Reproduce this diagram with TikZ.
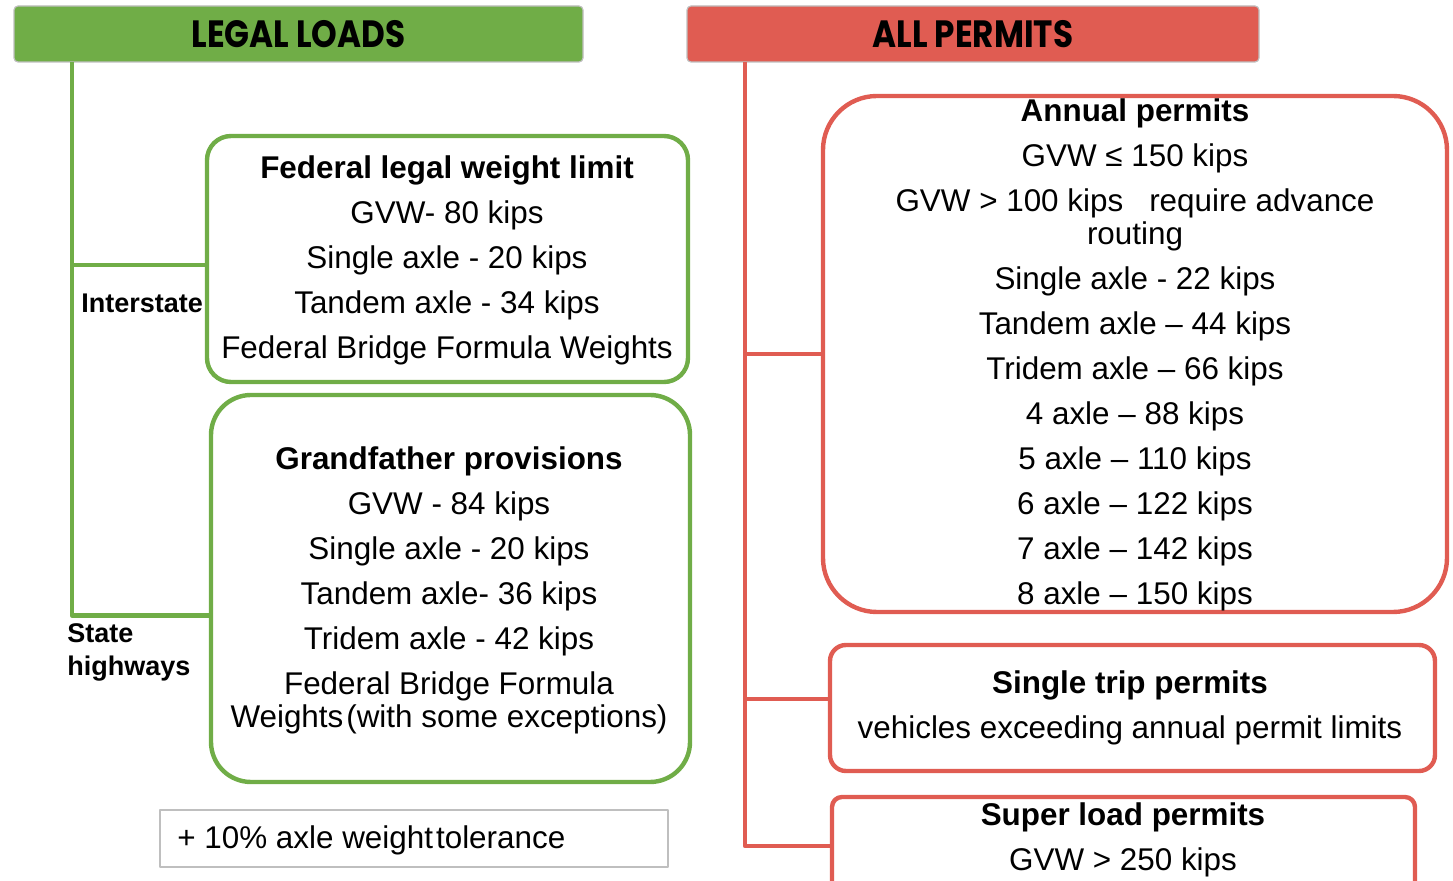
\documentclass[tikz,border=0pt]{standalone}
\usepackage{graphicx}
\usepackage{fontspec}
\setmainfont{Liberation Sans}
\newfontfamily\headfont{Poppins}
\usetikzlibrary{calc, fit, positioning}
\definecolor{lgreen}{HTML}{70AD47}
\definecolor{pred}{HTML}{E05C52}
\definecolor{frame}{HTML}{BFBFBF}
\tikzset{
  every picture/.style={line join=round},
  hdr/.style={draw=frame, line width=0.6pt, rounded corners=2pt, minimum height=28pt,
              inner sep=0pt, font=\headfont\bfseries\fontsize{19}{19}\selectfont},
  box/.style={draw=#1, line width=2.2pt, fill=white, inner sep=0pt},
  gbox/.style={box=lgreen},
  rbox/.style={box=pred},
  txt/.style={align=center, inner sep=0pt, font=\fontsize{15.7}{22.5}\selectfont},
  lbl/.style={align=left, inner sep=0pt, font=\bfseries\fontsize{13.5}{16.5}\selectfont},
  gline/.style={draw=lgreen, line width=2.4pt},
  rline/.style={draw=pred, line width=2.4pt},
  note/.style={draw=frame, line width=0.6pt, inner sep=0pt},
}

\begin{document}
\begin{tikzpicture}[x=0.5pt, y=-0.5pt]
  \useasboundingbox (0,0) rectangle (1453,881);
  % headers
  \node[hdr, fill=lgreen, minimum width=284.5pt] (legal) at (298.5,34) {\scalebox{0.86}[1]{LEGAL LOADS}};
  \node[hdr, fill=pred, minimum width=286pt] (permits) at (973,34) {\scalebox{0.86}[1]{ALL PERMITS}};
  \coordinate (gtop) at (72,62);
  \coordinate (rtop) at (745,62);
  % legal loads
  \node[gbox, rounded corners=12pt, fit={(207,136) (688,382)}] (fed) {};
  \node[gbox, rounded corners=20pt, fit={(211,395) (690,782)}] (gf) {};
  \node[txt] (fedtxt) at (447,260) {\textbf{Federal legal weight limit}\\GVW- 80 kips\\Single axle - 20 kips\\
    Tandem axle - 34 kips\\Federal Bridge Formula Weights};
  \node[txt] (gftxt) at (449,590) {\textbf{Grandfather provisions}\\GVW - 84 kips\\Single axle - 20 kips\\
    Tandem axle- 36 kips\\Tridem axle - 42 kips\\Federal Bridge Formula\\[-6pt]Weights\hspace{1.5pt}(with some exceptions)};
  \node[lbl, anchor=west] (inter) at (81,303) {Interstate};
  \node[lbl, anchor=west] (state) at (67,652) {State\\highways};
  \node[note, fit={(160,810) (668,867)}] (tol) {};
  \node[txt, anchor=west] (toltxt) at (177,840) {+ 10\% axle weight\hspace{1.5pt}tolerance};
  % permits
  \node[rbox, rounded corners=27pt, fit={(823,96) (1447,612)}] (ann) {};
  \node[rbox, rounded corners=8pt, fit={(830,645) (1435,771)}] (stp) {};
  \node[rbox, rounded corners=5pt, fit={(832,797) (1415,895)}] (sup) {};
  \node[txt] (anntxt) at (1135,355) {\textbf{Annual permits}\\GVW ≤ 150 kips\\GVW > 100 kips\hspace{13pt}require advance\\[-6pt]
    routing\\Single axle - 22 kips\\Tandem axle -- 44 kips\\Tridem axle -- 66 kips\\4 axle -- 88 kips\\
    5 axle -- 110 kips\\6 axle -- 122 kips\\7 axle -- 142 kips\\8 axle -- 150 kips};
  \node[txt] (stptxt) at (1130,708) {\textbf{Single trip permits}\\vehicles exceeding annual permit limits};
  \node[txt] (suptxt) at (1123,840) {\textbf{Super load permits}\\GVW > 250 kips};
  % branches
  \coordinate (fedin) at ($(fed.west)+(0,6)$);
  \coordinate (gfin) at ($(gf.west)+(0,27)$);
  \coordinate (stpin) at ($(stp.west)+(0,-9)$);
  \draw[gline] (gtop) |- (gfin);
  \draw[gline] (fedin -| gtop) -- (fedin);
  \draw[rline] (rtop) |- (sup.west);
  \draw[rline] (ann.west -| rtop) -- (ann.west);
  \draw[rline] (stpin -| rtop) -- (stpin);
\end{tikzpicture}
\end{document}
